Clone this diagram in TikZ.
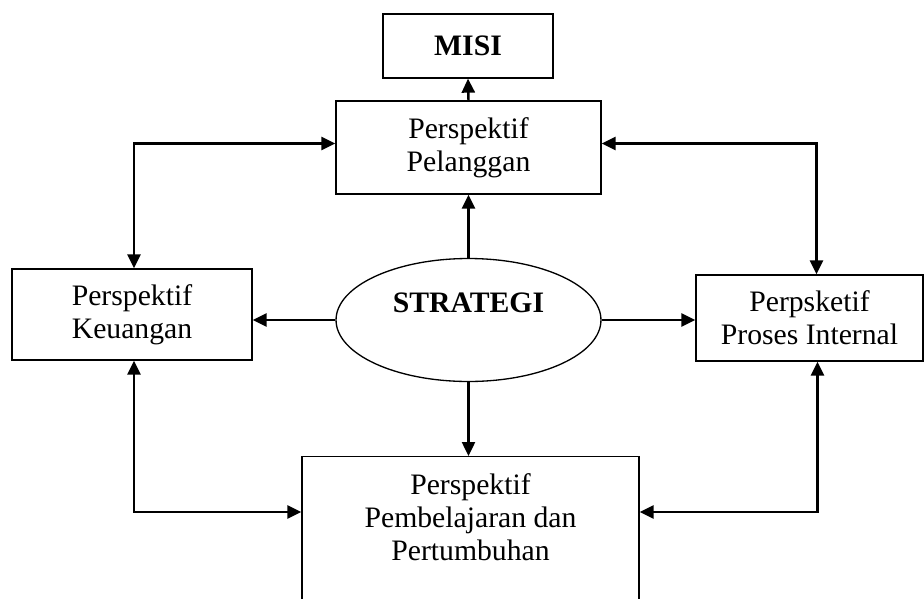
\documentclass[tikz,border=0pt]{standalone}
\usepackage{fontspec}
\setmainfont{Liberation Serif}
\usetikzlibrary{arrows.meta,shapes.geometric,positioning,calc}
\newcommand{\boxfont}{\fontsize{16.9}{18.8}\selectfont}

\begin{document}
\begin{tikzpicture}[x=0.02cm,y=-0.02cm,>={Triangle[length=0.28cm,width=0.26cm]},
    box/.style={draw,line width=0.75pt,rectangle,align=center,font=\boxfont},
    link/.style={line width=1.4pt},
    title/.style={font=\boxfont\bfseries}]
  \useasboundingbox (0,0) rectangle (924,599);
  \clip (0,0) rectangle (924,599);

  % top
  \node[box,title,minimum width=3.4cm,minimum height=1.28cm] (misi) at (468,46) {MISI};
  \node[box,minimum width=5.3cm,minimum height=1.86cm] (pelanggan) at (468.5,147.5)
    {Perspektif\\Pelanggan};

  % middle row
  \node[box,minimum width=4.8cm,minimum height=1.82cm] (keuangan) at (132,314.5)
    {Perspektif\\Keuangan};
  \node[draw,line width=0.75pt,ellipse,minimum width=5.3cm,minimum height=2.46cm] (strategi)
    at (468.5,320) {};
  \node[title] (strategitxt) at (468.5,303) {STRATEGI};
  \node[box,minimum width=4.54cm,minimum height=1.72cm] (internal) at (809.5,318)
    {Perpsketif\\Proses Internal};

  % bottom
  \node[box,anchor=north,minimum width=6.74cm,minimum height=4cm] (belajar) at (470.5,456) {};
  \node[align=center,font=\boxfont] (belajartxt) at (470.5,517)
    {Perspektif\\Pembelajaran dan\\Pertumbuhan};

  % arrows from strategi
  \draw[link,->] (pelanggan.north) -- (misi.south);
  \draw[link,->] (strategi.north) -- (pelanggan.south);
  \draw[link,->] (strategi.west) -- (keuangan.east |- strategi.west);
  \draw[link,->] (strategi.east) -- (internal.west |- strategi.east);
  \draw[link,->] (strategi.south) -- (belajar.north -| strategi.south);

  % links between perspektif
  \draw[link,<->] ($(pelanggan.west)+(0,-4)$) -| ($(keuangan.north)+(2,0)$);
  \draw[link,<->] ($(pelanggan.east)+(0,-4)$) -| ($(internal.north)+(7,0)$);
  \draw[link,<->] ($(keuangan.south)+(2,0)$) |- ($(belajar.north west)+(0,56)$);
  \draw[link,<->] ($(internal.south)+(8,0)$) |- ($(belajar.north east)+(0,56)$);
\end{tikzpicture}
\end{document}
